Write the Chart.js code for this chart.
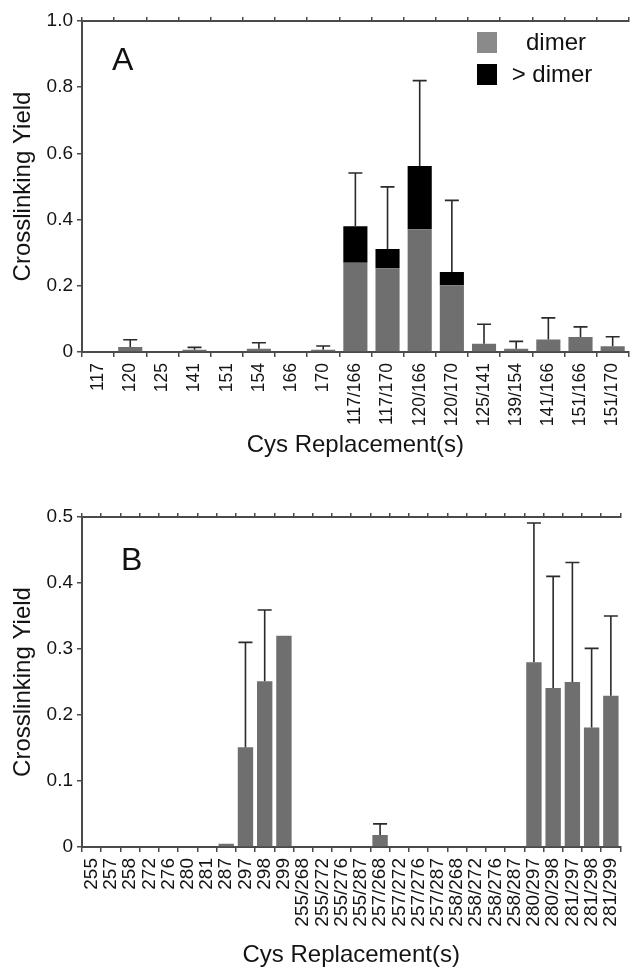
<!DOCTYPE html>
<html>
<head>
<meta charset="utf-8">
<script src="https://cdn.jsdelivr.net/npm/chart.js@4.4.1/dist/chart.umd.min.js"></script>
<style>
  html, body { margin: 0; padding: 0; background: #fff; overflow: hidden; }
  #wrapA { position: absolute; left: 0; top: 0; width: 640px; height: 465px; }
  #wrapB { position: absolute; left: 0; top: 470px; width: 640px; height: 500px; }
</style>
</head>
<body>
<div id="wrapA"><canvas id="chartA" width="640" height="465"></canvas></div>
<div id="wrapB"><canvas id="chartB" width="640" height="500"></canvas></div>
<script>
// Panel A data
var labelsA = ['117', '120', '125', '141', '151', '154', '166', '170',
    '117/166', '117/170', '120/166', '120/170', '125/141', '139/154', '141/166', '151/166', '151/170'];
var dimerA = [0, 0.015, 0, 0.007, 0, 0.01, 0, 0.007, 0.27, 0.253, 0.371, 0.202, 0.025, 0.01, 0.038, 0.045, 0.017];
var aboveDimerA = [0, 0, 0, 0, 0, 0, 0, 0, 0.11, 0.058, 0.191, 0.04, 0, 0, 0, 0, 0];
var errTopA = [null, 0.037, null, 0.014, null, 0.028, null, 0.018, 0.541, 0.499, 0.82, 0.458, 0.084, 0.032, 0.103, 0.076, 0.046];
var yTicksA = [0, 0.2, 0.4, 0.6, 0.8, 1.0];

// Panel B data
var labelsB = ['255', '257', '258', '272', '276', '280', '281', '287', '297', '298', '299',
    '255/268', '255/272', '255/276', '255/287', '257/268', '257/272', '257/276', '257/287',
    '258/268', '258/272', '258/276', '258/287', '280/297', '280/298', '281/297', '281/298', '281/299'];
var valuesB = [0, 0, 0, 0, 0, 0, 0, 0.005, 0.151, 0.251, 0.32, 0, 0, 0, 0, 0.018, 0, 0, 0,
    0, 0, 0, 0, 0.28, 0.241, 0.25, 0.181, 0.229];
var errTopB = [null, null, null, null, null, null, null, null, 0.31, 0.359, null, null, null, null, null, 0.035,
    null, null, null, null, null, null, null, 0.491, 0.41, 0.431, 0.301, 0.35];
var yTicksB = [0, 0.1, 0.2, 0.3, 0.4, 0.5];

var FONT = "'Liberation Sans', Arial, Helvetica, sans-serif";
var AXIS = '#4a4a4a';
var TEXT = '#141414';

// upper error bars drawn from the stacked total to the error top
var errorBars = {
    id: 'errorBars',
    afterDatasetsDraw: function(chart, args, opts) {
        var ctx = chart.ctx, x = chart.scales.x, y = chart.scales.y;
        ctx.save();
        ctx.strokeStyle = '#2a2a2a';
        ctx.lineWidth = 1.6;
        opts.tops.forEach(function(top, i) {
            if (top === null) return;
            var total = 0;
            chart.data.datasets.forEach(function(ds) { total += ds.data[i] || 0; });
            var px = x.getPixelForValue(i);
            var y0 = y.getPixelForValue(total), y1 = y.getPixelForValue(top);
            ctx.beginPath();
            ctx.moveTo(px, y0);
            ctx.lineTo(px, y1);
            ctx.moveTo(px - opts.cap / 2, y1);
            ctx.lineTo(px + opts.cap / 2, y1);
            ctx.stroke();
        });
        ctx.restore();
    }
};

// panel letter and legend boxes
var annotations = {
    id: 'annotations',
    afterDraw: function(chart, args, opts) {
        var ctx = chart.ctx;
        ctx.save();
        ctx.fillStyle = '#111';
        ctx.font = '32px ' + FONT;
        ctx.textBaseline = 'alphabetic';
        ctx.fillText(opts.letter.text, opts.letter.x, opts.letter.y);
        (opts.legend || []).forEach(function(item) {
            ctx.fillStyle = item.color;
            ctx.fillRect(item.x, item.y, 20, 21);
            ctx.fillStyle = '#111';
            ctx.font = '24px ' + FONT;
            ctx.textAlign = 'center';
            ctx.textBaseline = 'middle';
            ctx.fillText(item.text, item.tx, item.y + 11);
        });
        ctx.restore();
    }
};

function buildOptions(p) {
    return {
        responsive: false,
        animation: false,
        layout: { padding: { left: 0, right: 6, top: 0, bottom: 0 } },
        plugins: {
            legend: { display: false },
            tooltip: { enabled: false },
            errorBars: { tops: p.errTop, cap: 14 },
            annotations: p.annotations
        },
        scales: {
            x: {
                type: 'category',
                stacked: true,
                offset: true,
                grid: { display: true, drawOnChartArea: false, drawTicks: true, tickLength: 5, color: AXIS, lineWidth: 1.5 },
                border: { display: true, color: AXIS, width: 2 },
                ticks: { color: TEXT, font: { family: FONT, size: p.xFont }, minRotation: 90, maxRotation: 90, padding: 6, autoSkip: false },
                title: { display: true, text: 'Cys Replacement(s)', color: TEXT, font: { family: FONT, size: 24 }, padding: { top: 0, bottom: p.titleBottom } },
                afterFit: function(scale) { scale.height = p.xHeight; }
            },
            x2: {
                type: 'category',
                position: 'top',
                labels: p.labels,
                offset: true,
                grid: { display: true, drawOnChartArea: false, drawTicks: true, tickLength: 4, color: AXIS, lineWidth: 1.5 },
                border: { display: true, color: AXIS, width: 2 },
                ticks: { display: false },
                afterFit: function(scale) { scale.height = p.topHeight; }
            },
            y: {
                stacked: true,
                min: 0,
                max: p.yMax,
                afterBuildTicks: function(scale) {
                    scale.ticks = p.yTicks.map(function(v) { return { value: v }; });
                },
                grid: { display: true, drawOnChartArea: false, drawTicks: true, tickLength: 5, color: AXIS, lineWidth: 1.5 },
                border: { display: true, color: AXIS, width: 2 },
                ticks: {
                    color: TEXT, font: { family: FONT, size: 19 }, padding: 4,
                    callback: function(v) { return v === 0 ? '0' : v.toFixed(1); }
                },
                title: { display: true, text: 'Crosslinking Yield', color: TEXT, font: { family: FONT, size: 24 }, padding: { top: 9, bottom: 0 } },
                afterFit: function(scale) { scale.width = 82; }
            }
        }
    };
}

new Chart(document.getElementById('chartA'), {
    type: 'bar',
    data: {
        labels: labelsA,
        datasets: [
            { label: 'dimer', data: dimerA, backgroundColor: '#6f6f6f', barPercentage: 0.75, categoryPercentage: 1 },
            { label: '> dimer', data: aboveDimerA, backgroundColor: '#000', barPercentage: 0.75, categoryPercentage: 1 }
        ]
    },
    options: buildOptions({
        labels: labelsA, errTop: errTopA, yMax: 1.0, yTicks: yTicksA,
        xFont: 17.5, xHeight: 113, topHeight: 21, titleBottom: 5,
        annotations: {
            letter: { text: 'A', x: 112, y: 70 },
            legend: [
                { color: '#8a8a8a', x: 477, y: 32, text: 'dimer', tx: 556 },
                { color: '#000', x: 477, y: 64, text: '> dimer', tx: 552 }
            ]
        }
    }),
    plugins: [errorBars, annotations]
});

new Chart(document.getElementById('chartB'), {
    type: 'bar',
    data: {
        labels: labelsB,
        datasets: [
            { label: 'dimer', data: valuesB, backgroundColor: '#6f6f6f', barPercentage: 0.8, categoryPercentage: 1 }
        ]
    },
    options: buildOptions({
        labels: labelsB, errTop: errTopB, yMax: 0.5, yTicks: yTicksB,
        xFont: 19, xHeight: 123, topHeight: 47, titleBottom: 0,
        annotations: {
            letter: { text: 'B', x: 121, y: 100 },
            legend: []
        }
    }),
    plugins: [errorBars, annotations]
});
</script>
</body>
</html>
